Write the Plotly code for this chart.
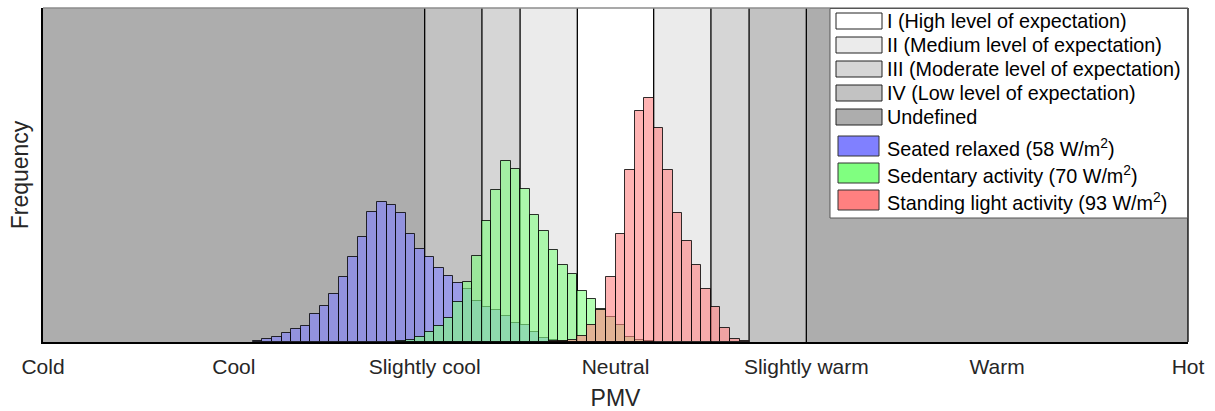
import plotly.graph_objects as go

# ---------------- data ----------------
tick_vals = [-3, -2, -1, 0, 1, 2, 3]
tick_text = ["Cold", "Cool", "Slightly cool", "Neutral", "Slightly warm", "Warm", "Hot"]

bin_width = 0.05

seated_start = -1.90
seated_counts = [1, 3, 5, 9, 13, 16, 28, 36, 48, 65, 85, 105, 130, 140, 137, 129, 108, 93,
                 85, 74, 66, 59, 53, 41, 35, 32, 26, 19, 17, 10, 4, 2, 1]

sedentary_start = -1.15
sedentary_counts = [1, 2, 5, 10, 16, 24, 40, 60, 86, 121, 152, 181, 173, 153, 127, 111, 92,
                    77, 68, 51, 43, 33, 25, 17, 5, 2, 1]

standing_start = -0.35
standing_counts = [1, 1, 2, 6, 17, 32, 65, 108, 172, 231, 244, 214, 172, 129, 101, 77, 53,
                   35, 14, 3, 1]

# expectation categories (PMV ranges)
band_names = ["I (High level of expectation)", "II (Medium level of expectation)",
              "III (Moderate level of expectation)", "IV (Low level of expectation)", "Undefined"]
band_colors = ["#ffffff", "#ebebeb", "#d6d6d6", "#c2c2c2", "#adadad"]
band_ranges = [
    (4, -3.0, -1.0), (3, -1.0, -0.7), (2, -0.7, -0.5), (1, -0.5, -0.2), (0, -0.2, 0.2),
    (1, 0.2, 0.5), (2, 0.5, 0.7), (3, 0.7, 1.0), (4, 1.0, 3.0),
]
band_edges = [-1.0, -0.7, -0.5, -0.2, 0.2, 0.5, 0.7, 1.0]

series_names = ["Seated relaxed (58 W/m<sup>2</sup>)", "Sedentary activity (70 W/m<sup>2</sup>)",
                "Standing light activity (93 W/m<sup>2</sup>)"]
series_colors = [(128, 128, 255), (128, 255, 128), (255, 128, 128)]
series_data = [(seated_start, seated_counts), (sedentary_start, sedentary_counts),
               (standing_start, standing_counts)]

# ---------------- figure ----------------
W, H = 1215, 411
L, R, T, B = 43, 27, 8, 69
PW, PH = W - L - R, H - T - B

def px(x):
    return (x - L) / PW

def py(y):
    return (H - B - y) / PH

fig = go.Figure()

for (start, counts), (r, g, b), name in zip(series_data, series_colors, series_names):
    centers = [start + bin_width / 2 + i * bin_width for i in range(len(counts))]
    fig.add_trace(go.Bar(
        x=centers, y=counts, width=bin_width, name=name,
        marker=dict(color=f"rgba({r},{g},{b},0.6)",
                    line=dict(color="rgba(0,0,0,0.8)", width=1)),
        showlegend=False,
    ))

shapes = []
for idx, x0, x1 in band_ranges:
    shapes.append(dict(type="rect", xref="x", yref="paper", x0=x0, x1=x1, y0=0, y1=1,
                       fillcolor=band_colors[idx], line=dict(width=0), layer="below"))
for e in band_edges:
    shapes.append(dict(type="line", xref="x", yref="paper", x0=e, x1=e, y0=0, y1=1,
                       line=dict(color="black", width=1.3), layer="below"))
# frame
shapes.append(dict(type="line", xref="paper", yref="paper", x0=0, x1=1, y0=1, y1=1,
                   line=dict(color="#8c8c8c", width=1.3), layer="above"))
shapes.append(dict(type="line", xref="paper", yref="paper", x0=1, x1=1, y0=0, y1=1,
                   line=dict(color="black", width=1.3), layer="above"))

# manual legend
legend_font = dict(size=19.8, color="black", family="Liberation Sans, Arial")
shapes.append(dict(type="rect", xref="paper", yref="paper", x0=px(830), x1=px(1187.5),
                   y0=py(218), y1=py(8.5), fillcolor="white",
                   line=dict(color="#555555", width=1), layer="above"))
annotations = []
band_rows = [21, 45, 69, 93, 117]
for name, col, yc in zip(band_names, band_colors, band_rows):
    shapes.append(dict(type="rect", xref="paper", yref="paper", x0=px(836), x1=px(882),
                       y0=py(yc + 8), y1=py(yc - 8), fillcolor=col,
                       line=dict(color="#222222", width=1), layer="above"))
    annotations.append(dict(x=px(885), y=py(yc), xref="paper", yref="paper", text=name,
                            showarrow=False, xanchor="left", yanchor="middle",
                            font=legend_font))
series_rows = [146, 173, 200]
for name, (r, g, b), yc in zip(series_names, series_colors, series_rows):
    shapes.append(dict(type="rect", xref="paper", yref="paper", x0=px(838), x1=px(879),
                       y0=py(yc + 10), y1=py(yc - 10), fillcolor=f"rgb({r},{g},{b})",
                       line=dict(color="#333333", width=1), layer="above"))
    annotations.append(dict(x=px(885), y=py(yc + 1), xref="paper", yref="paper", text=name,
                            showarrow=False, xanchor="left", yanchor="middle",
                            font=legend_font))

fig.update_layout(
    width=W, height=H,
    margin=dict(l=L, r=R, t=T, b=B),
    paper_bgcolor="white", plot_bgcolor="white",
    barmode="overlay", bargap=0,
    shapes=shapes, annotations=annotations,
    font=dict(family="Liberation Sans, Arial", color="#262626"),
    xaxis=dict(range=[-3, 3], tickvals=tick_vals, ticktext=tick_text, showgrid=False,
               zeroline=False, showline=True, linecolor="black", linewidth=1.5,
               automargin=False,
               ticks="", tickfont=dict(size=21, color="#262626"), ticklabelstandoff=5,
               title=dict(text="PMV", font=dict(size=23, color="#262626"), standoff=14)),
    yaxis=dict(range=[0, PH], showticklabels=False, showgrid=False, zeroline=False,
               showline=True, linecolor="black", linewidth=1.5, ticks="", automargin=False,
               title=dict(text="Frequency", font=dict(size=23, color="#262626"), standoff=6)),
)

fig.write_html("out.html")
